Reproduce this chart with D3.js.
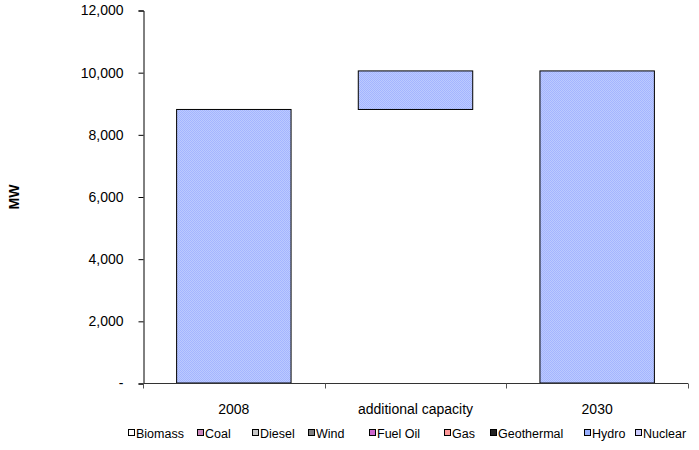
<!DOCTYPE html>
<html><head><meta charset="utf-8">
<script src="https://cdn.jsdelivr.net/npm/d3@7"></script>
<style>body{margin:0;background:#fff;} svg{display:block;font-family:"Liberation Sans",Arial,sans-serif;}</style>
</head><body>
<svg id="c" width="699" height="450"></svg>
<script>
const categories = ["2008", "additional capacity", "2030"];
const seriesNames = ["Biomass","Coal","Diesel","Wind","Fuel Oil","Gas","Geothermal","Hydro","Nuclear"];
const base = [0, 8800, 0];
const biomass = [0, 0, 0];
const coal = [0, 0, 0];
const diesel = [0, 0, 0];
const wind = [0, 0, 0];
const fuelOil = [0, 0, 0];
const gas = [0, 0, 0];
const geothermal = [0, 0, 0];
const hydro = [8800, 1240, 10040];
const nuclear = [0, 0, 0];
const yTicks = [0, 2000, 4000, 6000, 8000, 10000, 12000];

const seriesValues = [biomass, coal, diesel, wind, fuelOil, gas, geothermal, hydro, nuclear];
const colors = ["#ffffff","#cc88bb","#c8c8c8","#808080","#cc66cc","#ff9999","#222222","url(#hydroPat)","#ccccff"];
const swatchColors = ["#ffffff","#cc88bb","#c8c8c8","#808080","#cc66cc","#ff9999","#222222","#99b0ff","#ccccff"];

const svg = d3.select("#c");
const defs = svg.append("defs");
const pat = defs.append("pattern").attr("id","hydroPat").attr("width",2).attr("height",2).attr("patternUnits","userSpaceOnUse");
pat.append("rect").attr("width",2).attr("height",2).attr("fill","#bccaff");
pat.append("rect").attr("width",1).attr("height",1).attr("fill","#a4b5ff");
pat.append("rect").attr("x",1).attr("y",1).attr("width",1).attr("height",1).attr("fill","#a4b5ff");

const x = d3.scaleBand().domain(categories).range([143, 688]).paddingInner(0.37).paddingOuter(0.185);
const y = d3.scaleLinear().domain([0, 12000]).range([383, 10]);

const rows = categories.map((c, i) => {
  const r = {cat: c, base: base[i]};
  seriesNames.forEach((s, j) => r[s] = seriesValues[j][i]);
  return r;
});
const stack = d3.stack().keys(["base", ...seriesNames])(rows);

stack.forEach((layer, li) => {
  if (li === 0) return; // invisible base of the waterfall
  const col = colors[li - 1];
  svg.append("g").selectAll("rect").data(layer.filter(d => d[1] - d[0] > 0)).enter().append("rect")
    .attr("x", d => x(d.data.cat))
    .attr("width", x.bandwidth())
    .attr("y", d => y(d[1]))
    .attr("height", d => y(d[0]) - y(d[1]))
    .attr("fill", col)
    .attr("stroke", "#000").attr("stroke-width", 1);
});

// Y axis
const yAxis = d3.axisLeft(y).tickValues(yTicks).tickSize(5).tickPadding(15)
  .tickFormat(d => d === 0 ? "-" : d3.format(",")(d));
const gy = svg.append("g").attr("transform","translate(143.5,0.5)").call(yAxis);
gy.select(".domain").attr("stroke","#000");
gy.selectAll(".tick line").attr("stroke","#000");
gy.selectAll("text").attr("font-size","14px").attr("fill","#000").attr("font-family","Liberation Sans, Arial, sans-serif");

// X axis
const xg = svg.append("g").attr("transform","translate(0,383.5)");
xg.append("line").attr("x1",143).attr("x2",688).attr("stroke","#333");
const step = x.step();
const tickXs = categories.map(c => x(c) - step*x.paddingInner()/2).concat([x(categories[2]) + x.bandwidth() + step*x.paddingInner()/2]);
xg.selectAll("line.t").data(tickXs).enter().append("line").attr("class","t")
  .attr("x1", d => Math.round(d)+0.5).attr("x2", d => Math.round(d)+0.5).attr("y1",0).attr("y2",5).attr("stroke","#555");
xg.selectAll("text").data(categories).enter().append("text")
  .attr("x", d => x(d) + x.bandwidth()/2).attr("y", 30)
  .attr("text-anchor","middle").attr("font-size","14px").attr("fill","#000").text(d => d);

// Y label
svg.append("text").attr("transform","translate(19,197) rotate(-90)").attr("text-anchor","middle")
  .attr("font-size","14px").attr("font-weight","bold").text("MW");

// Legend
const legendX = [128, 197, 252, 308, 369, 444, 490, 584, 635];
const lg = svg.append("g");
seriesNames.forEach((s, i) => {
  lg.append("rect").attr("x", legendX[i]+0.5).attr("y", 429.5).attr("width",6).attr("height",6)
    .attr("fill", swatchColors[i]).attr("stroke","#000").attr("stroke-width",1);
  lg.append("text").attr("x", legendX[i]+8).attr("y", 437.5).attr("font-size","12.5px").attr("fill","#000").text(s);
});
</script>
</body></html>
